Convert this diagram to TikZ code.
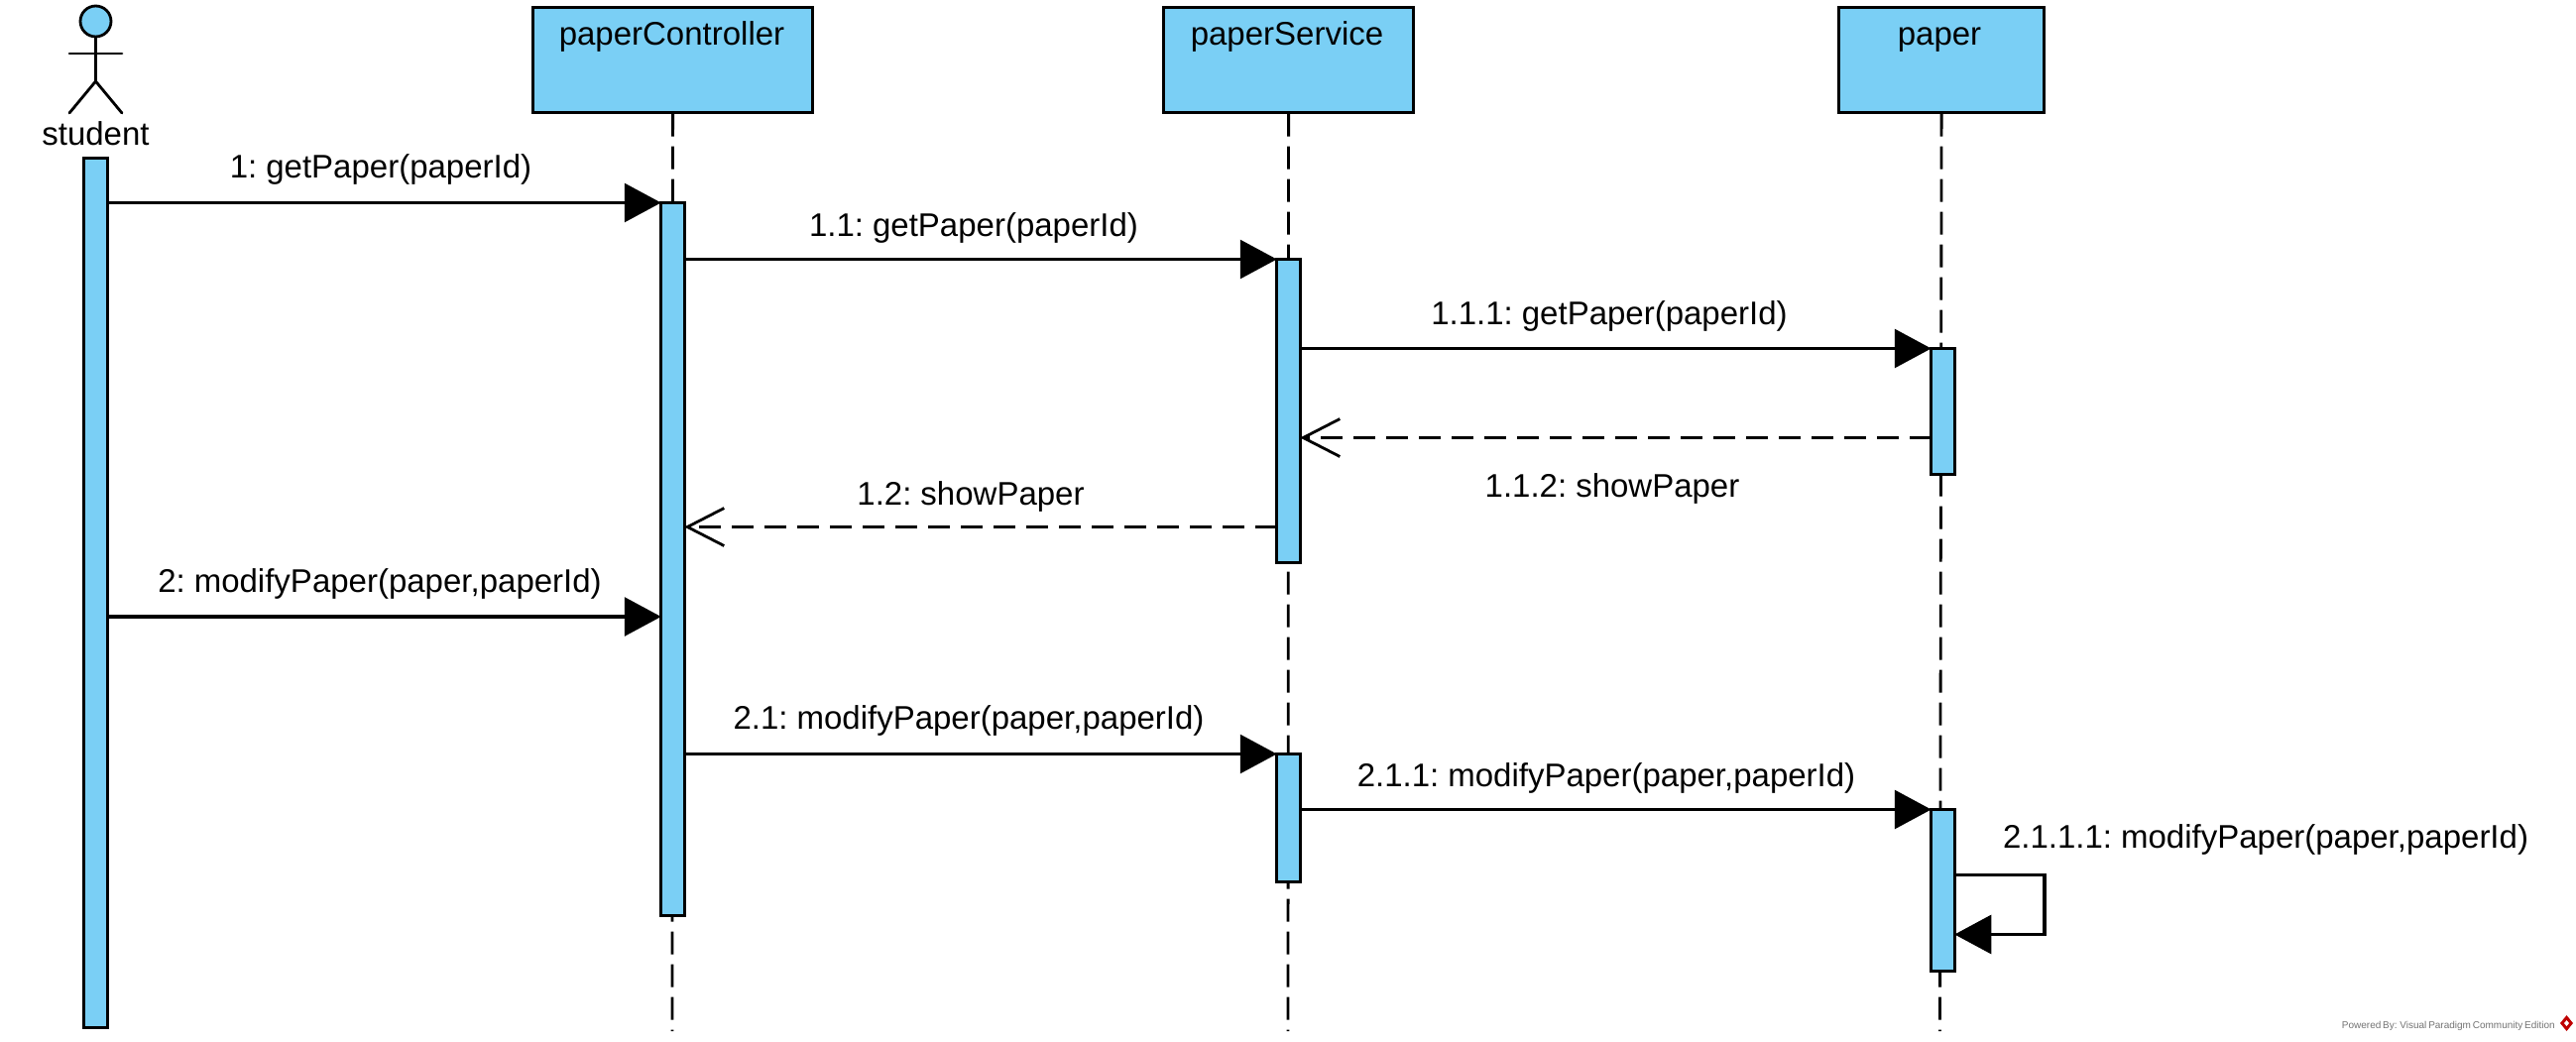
\documentclass[tikz,border=0pt]{standalone}
\usepackage{fontspec}
\setmainfont[WordSpace=0.65]{Liberation Sans}
\usetikzlibrary{arrows.meta}
\definecolor{vpblue}{HTML}{7ACFF5}
\tikzset{
  head/.style={draw=black,line width=3.2bp,fill=vpblue,rectangle,minimum width=#1,minimum height=106bp,inner sep=0pt},
  act/.style={draw=black,line width=3.2bp,fill=vpblue,rectangle,minimum width=23.5bp,inner sep=0pt,outer sep=0pt},
  life/.style={line width=2.8bp,dash pattern=on 23bp off 10bp},
  msg/.style={line width=3.1bp,-{Triangle[length=37bp,width=39bp]}},
  ret/.style={line width=3.1bp,dash pattern=on 22bp off 11bp,-{Straight Barb[length=37bp,width=38bp,line width=2.8bp]}},
  lab/.style={font=\fontsize{33bp}{36bp}\selectfont,anchor=base,inner sep=0pt},
  limb/.style={line width=2.8bp,line cap=round},
}
\begin{document}
\begin{tikzpicture}[x=1bp,y=-1bp]
\useasboundingbox (0,0) rectangle (2598,1050);
% lifeline heads
\node[head=282bp,anchor=north west] (pc) at (536,5.5) {};
\node[head=252bp,anchor=north west] (ps) at (1172,5.5) {};
\node[head=207bp,anchor=north west] (pp) at (1853,5.5) {};
\node[lab] (pct) at (677.5,45) {paperController};
\node[lab] (pst) at (1298,45) {paperService};
\node[lab] (ppt) at (1956,45) {paper};
% lifeline ends
\coordinate (pce) at (678,1040);
\coordinate (pse) at (1299,1040);
\coordinate (ppe) at (1956.5,1040);
\draw[life] (pc.south) -- (pce);
\draw[life] (ps.south) -- (pse);
\draw[life] (pp.south) -- (ppe);
% actor
\node[draw=black,line width=2.8bp,fill=vpblue,circle,minimum size=31bp,inner sep=0pt] (hd) at (96.5,21.5) {};
\coordinate (hip) at (96.5,82);
\coordinate (armL) at (70,54);
\coordinate (armR) at (123,54);
\coordinate (legL) at (70,114);
\coordinate (legR) at (123,114);
\draw[limb] (hd.south) -- (hip);
\draw[limb] (armL) -- (armR);
\draw[limb] (legL) -- (hip) -- (legR);
\node[lab] (st) at (96.5,146) {student};
% activations
\node[act,anchor=north,minimum height=877bp] (a0) at (96.5,159.5) {};
\node[act,anchor=north,minimum height=719bp] (c1) at (678.5,204.5) {};
\node[act,anchor=north,minimum height=306bp] (s1) at (1299.5,261.5) {};
\node[act,anchor=north,minimum height=127bp] (p1) at (1959.5,351.5) {};
\node[act,anchor=north,minimum height=129bp] (s2) at (1299.5,760.5) {};
\node[act,anchor=north,minimum height=163bp] (p2) at (1959.5,816.5) {};
% message levels
\coordinate (m1) at (0,204.5);
\coordinate (m11) at (0,261.5);
\coordinate (m111) at (0,351.5);
\coordinate (m112) at (0,441.5);
\coordinate (m12) at (0,531.5);
\coordinate (m2) at (0,622);
\coordinate (m21) at (0,760.5);
\coordinate (m211) at (0,816.5);
\coordinate (sfa) at (2062,882.5);
\coordinate (sfb) at (2062,942.5);
\draw[msg] (a0.east |- m1) -- (c1.west |- m1);
\draw[msg] (c1.east |- m11) -- (s1.west |- m11);
\draw[msg] (s1.east |- m111) -- (p1.west |- m111);
\draw[ret] (p1.west |- m112) -- (s1.east |- m112);
\draw[ret] (s1.west |- m12) -- (c1.east |- m12);
\draw[msg] (a0.east |- m2) -- (c1.west |- m2);
\draw[msg] (c1.east |- m21) -- (s2.west |- m21);
\draw[msg] (s2.east |- m211) -- (p2.west |- m211);
\draw[msg] (p2.east |- sfa) -- (sfa) -- (sfb) -- (p2.east |- sfb);
% labels
\node[lab] (l1) at (384,179) {1: getPaper(paperId)};
\node[lab] (l11) at (982,238) {1.1: getPaper(paperId)};
\node[lab] (l111) at (1623,327) {1.1.1: getPaper(paperId)};
\node[lab] (l112) at (1626,501) {1.1.2: showPaper};
\node[lab] (l12) at (979,509) {1.2: showPaper};
\node[lab] (l2) at (383,597) {2: modifyPaper(paper,paperId)};
\node[lab] (l21) at (977,735) {2.1: modifyPaper(paper,paperId)};
\node[lab] (l211) at (1620,793) {2.1.1: modifyPaper(paper,paperId)};
\node[lab] (l2111) at (2285,855) {2.1.1.1: modifyPaper(paper,paperId)};
% watermark
\node[anchor=base east,inner sep=0pt,text=black!55,font=\fontsize{10bp}{12bp}\selectfont] (wm) at (2577,1037) {Powered By: Visual Paradigm Community Edition};
\fill[red!75!black] (2588.5,1024) -- (2595,1032) -- (2588.5,1040) -- (2582,1032) -- cycle;
\fill[white] (2588.5,1029) -- (2591,1032) -- (2588.5,1035) -- (2586,1032) -- cycle;
\end{tikzpicture}
\end{document}
